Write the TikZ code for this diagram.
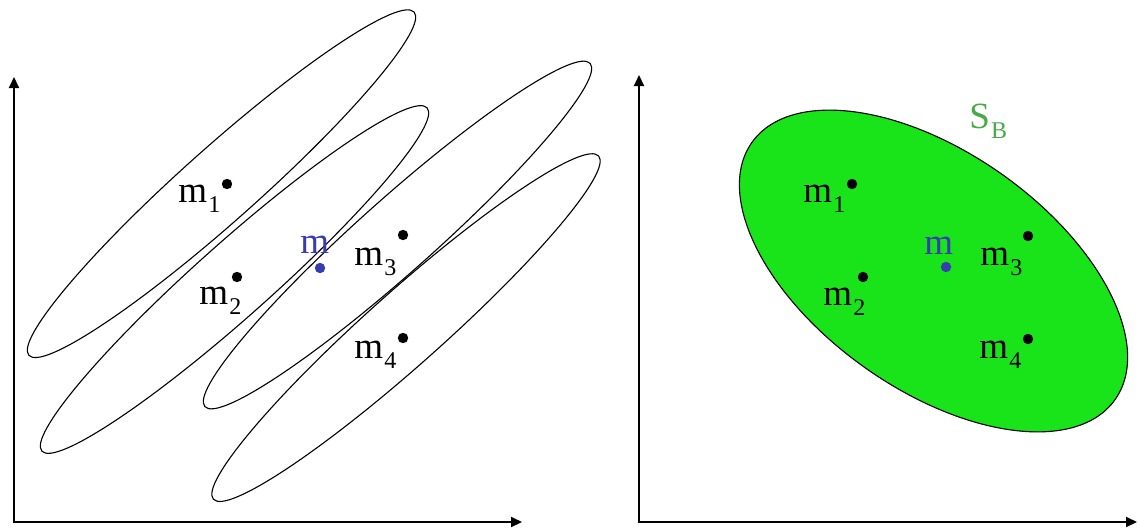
\documentclass[tikz,border=0pt]{standalone}
\usepackage{fontspec}
\setmainfont{Liberation Serif}
\usetikzlibrary{arrows.meta}
\definecolor{ptblue}{RGB}{55,60,175}
\definecolor{sbgreen}{RGB}{70,170,70}
\definecolor{fillgreen}{RGB}{25,228,25}
\newcommand{\mlab}[1]{m\kern0.6pt\raisebox{-5pt}{\fontsize{12}{12}\selectfont #1}}
\begin{document}
\begin{tikzpicture}[x=0.5pt,y=-0.5pt,
  axis/.style={line width=1pt,line cap=rect,-{Triangle[length=5.5pt,width=5pt]}},
  cluster/.style={line width=0.55pt},
  dot/.style={circle,fill=black,inner sep=0pt,minimum size=5.2pt},
  bdot/.style={dot,fill=ptblue},
  lab/.style={anchor=base west,inner sep=0pt,font=\fontsize{18.5}{20}\selectfont},
]
\useasboundingbox (0,0) rectangle (1138,530);

% ---------- left panel ----------
\coordinate (o1) at (14,522);
\coordinate (y1) at (14,77);
\coordinate (x1) at (522,522);
\draw[axis] (o1) -- (y1);
\draw[axis] (o1) -- (x1);

\draw[cluster, shift={(221.5,183.7)}, rotate=41.7] (0,0) ellipse[x radius=129pt, y radius=18.5pt];
\draw[cluster, shift={(234.5,279.5)}, rotate=41.7] (0,0) ellipse[x radius=129pt, y radius=18.5pt];
\draw[cluster, shift={(397.5,235)}, rotate=41.7] (0,0) ellipse[x radius=129pt, y radius=18.5pt];
\draw[cluster, shift={(406,327.6)}, rotate=41.7] (0,0) ellipse[x radius=129pt, y radius=18.5pt];

\node[dot] (La) at (227,184) {};
\node[dot] (Lb) at (237,277) {};
\node[bdot] (Lm) at (320,268) {};
\node[dot] (Lc) at (403,235) {};
\node[dot] (Ld) at (403,338) {};

\node[lab] (La-t) at (178,202) {\mlab{1}};
\node[lab] (Lb-t) at (199,304) {\mlab{2}};
\node[lab,text=ptblue] (Lm-t) at (300,253) {m};
\node[lab] (Lc-t) at (354,265) {\mlab{3}};
\node[lab] (Ld-t) at (354,358) {\mlab{4}};

% ---------- right panel ----------
\coordinate (o2) at (639,522);
\coordinate (y2) at (639,75);
\coordinate (x2) at (1137,522);
\draw[axis] (o2) -- (y2);
\draw[axis] (o2) -- (x2);

\draw[cluster, fill=fillgreen, shift={(933.5,271)}, rotate=-35.3] (0,0) ellipse[x radius=111.25pt, y radius=59.25pt];

\node[dot] (Ra) at (852,184) {};
\node[dot] (Rb) at (863,277) {};
\node[bdot] (Rm) at (946,267) {};
\node[dot] (Rc) at (1028,236) {};
\node[dot] (Rd) at (1028,339) {};

\node[lab] (Ra-t) at (803,202) {\mlab{1}};
\node[lab] (Rb-t) at (823,305) {\mlab{2}};
\node[lab,text=ptblue] (Rm-t) at (924,254) {m};
\node[lab] (Rc-t) at (980,265) {\mlab{3}};
\node[lab] (Rd-t) at (979,358) {\mlab{4}};

\node[lab,text=sbgreen] (SB) at (969,128) {S\kern0.6pt\raisebox{-5pt}{\fontsize{12}{12}\selectfont B}};
\end{tikzpicture}
\end{document}
